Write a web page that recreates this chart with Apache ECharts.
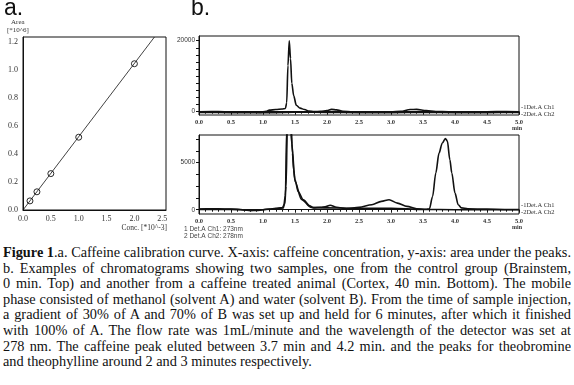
<!DOCTYPE html>
<html>
<head>
<meta charset="utf-8">
<script src="https://cdn.jsdelivr.net/npm/echarts@6/dist/echarts.min.js"></script>
<style>
  html, body { margin: 0; padding: 0; background: #fff; width: 574px; height: 385px; overflow: hidden; }
  #chart { position: absolute; left: 0; top: 0; width: 574px; height: 245px; }
  #caption {
    position: absolute; left: 3px; top: 245px; width: 568px; overflow: hidden;
    font-family: "Liberation Serif", serif; font-size: 14.3px; line-height: 15.6px; color: #111;
  }
  #caption div { white-space: nowrap; text-align: justify; text-align-last: justify; }
  #caption div.last { text-align-last: left; }
</style>
</head>
<body>
<div id="chart"></div>
<div id="caption">
  <div><b>Figure 1</b>.a. Caffeine calibration curve. X-axis: caffeine concentration, y-axis: area under the peaks.</div>
  <div>b. Examples of chromatograms showing two samples, one from the control group (Brainstem,</div>
  <div>0 min. Top) and another from a caffeine treated animal (Cortex, 40 min. Bottom). The mobile</div>
  <div>phase consisted of methanol (solvent A) and water (solvent B). From the time of sample injection,</div>
  <div>a gradient of 30% of A and 70% of B was set up and held for 6 minutes, after which it finished</div>
  <div>with 100% of A. The flow rate was 1mL/minute and the wavelength of the detector was set at</div>
  <div>278 nm. The caffeine peak eluted between 3.7 min and 4.2 min. and the peaks for theobromine</div>
  <div class="last">and theophylline around 2 and 3 minutes respectively.</div>
</div>
<script>
// a. 校准曲线数据
var calibConc = [0.125, 0.25, 0.5, 1.0, 2.0];
var calibArea = [0.065, 0.13, 0.26, 0.52, 1.045];
var fitLine = [[0, 0], [2.36, 1.236]];

// b. 色谱图 上 (Brainstem, 0 min)
var topCh1 = [[0,0],[0.2,50],[0.4,0],[0.6,-50],[0.8,-150],[0.95,-200],[1.05,100],[1.1,450],[1.2,600],[1.3,780],[1.35,900],
  [1.37,2500],[1.39,13000],[1.41,20000],[1.43,15000],[1.45,8000],[1.48,4500],[1.52,1800],[1.58,1000],[1.65,600],
  [1.72,150],[1.8,50],[1.9,100],[2.0,300],[2.07,650],[2.15,500],[2.25,100],[2.4,0],[2.6,0],[2.8,0],[3.0,-50],
  [3.15,100],[3.3,600],[3.4,650],[3.55,300],[3.7,50],[3.9,0],[4.2,0],[4.5,0],[4.8,50],[5.0,0]];
var topCh2 = [[0,-200],[0.5,-250],[1.0,-300],[1.35,-200],[1.6,-150],[2.0,-200],[2.5,-250],[3.0,-250],[3.5,-200],[4.0,-250],[4.5,-250],[5.0,-200]];

// b. 色谱图 下 (Cortex, 40 min)
var botCh1 = [[0,80],[0.2,90],[0.4,80],[0.6,50],[0.7,-20],[0.8,-100],[0.9,-80],[1.0,0],[1.1,80],[1.2,140],[1.3,220],
  [1.34,600],[1.36,2500],[1.38,8500],[1.42,11000],[1.44,9000],[1.46,6000],[1.48,4200],[1.5,3200],[1.55,1900],
  [1.63,1050],[1.73,420],[1.79,200],[1.9,250],[1.97,300],[2.05,480],[2.15,260],[2.3,110],[2.5,250],[2.7,530],
  [2.85,880],[2.97,1060],[3.1,700],[3.25,350],[3.4,100],[3.55,50],[3.6,100],[3.65,1400],[3.7,3900],[3.75,6000],
  [3.8,7050],[3.85,7550],[3.88,7300],[3.92,5300],[3.95,3900],[4.0,1760],[4.05,530],[4.1,200],[4.2,100],[4.5,60],
  [4.8,30],[5.0,20]];
var botCh2 = [[0,40],[0.5,40],[0.8,-60],[1.0,0],[1.2,100],[1.32,200],[1.35,1500],[1.37,8500],[1.42,10000],[1.45,7000],
  [1.5,3000],[1.6,1100],[1.75,250],[2.0,200],[2.5,150],[3.0,150],[3.5,30],[4.0,0],[4.5,0],[5.0,0]];

// 刻度
var topYLabels = [0, 20000];
var topYTicks = [0, 2000, 4000, 6000, 8000, 10000, 12000, 14000, 16000, 18000, 20000];
var botYLabels = [0, 5000];
var botYTicks = [0, 1250, 2500, 3750, 5000, 6250, 7500];

var serif = 'Liberation Serif';
var sans = 'Liberation Sans';
var ink = '#111';

function chromX (gridIndex) {
    return {
        type: 'value', gridIndex: gridIndex, min: 0, max: 5, interval: 0.5,
        axisLine: { lineStyle: { color: ink, width: 1 } },
        axisTick: { length: 3, lineStyle: { color: ink } },
        minorTick: { show: true, splitNumber: 5, length: 2, lineStyle: { color: ink } },
        splitLine: { show: false },
        axisLabel: { fontFamily: serif, fontSize: 6.5, fontWeight: 'bold', color: '#333', margin: 4,
            formatter: function (v) { return v.toFixed(1); } }
    };
}
function chromY (gridIndex, min, max, labels, ticks) {
    return {
        type: 'value', gridIndex: gridIndex, min: min, max: max,
        axisLine: { lineStyle: { color: ink, width: 1 } },
        axisTick: { length: 3, customValues: ticks, lineStyle: { color: ink } },
        splitLine: { show: false },
        axisLabel: { customValues: labels, fontFamily: sans, fontSize: 6.5, color: '#333', margin: 4,
            formatter: function (v) { return String(v); } }
    };
}
function chromLine (xi, data) {
    return {
        type: 'line', xAxisIndex: xi, yAxisIndex: xi, data: data, symbol: 'none',
        smooth: 0.3, smoothMonotone: 'x', clip: true,
        lineStyle: { color: ink, width: 1.6 }
    };
}

var myChart = echarts.init(document.getElementById('chart'));
var option = {
    animation: false,
    grid: [
        { left: 23, top: 37, width: 143, height: 173, show: true, borderColor: ink, borderWidth: 1, outerBoundsMode: 'none' },
        { left: 199, top: 36, width: 320, height: 79, show: true, borderColor: ink, borderWidth: 1, outerBoundsMode: 'none' },
        { left: 199, top: 135, width: 320, height: 79, show: true, borderColor: ink, borderWidth: 1, outerBoundsMode: 'none' }
    ],
    xAxis: [
        {
            type: 'value', gridIndex: 0, min: 0, max: 2.567, interval: 0.5,
            axisLine: { lineStyle: { color: ink } }, axisTick: { show: false }, splitLine: { show: false },
            axisLabel: { fontFamily: serif, fontSize: 8, color: '#333', margin: 5, showMaxLabel: false,
                formatter: function (v) { return v.toFixed(1); } }
        },
        chromX(1),
        chromX(2)
    ],
    yAxis: [
        {
            type: 'value', gridIndex: 0, min: 0, max: 1.236, interval: 0.2,
            axisLine: { lineStyle: { color: ink } }, axisTick: { show: false }, splitLine: { show: false },
            axisLabel: { fontFamily: serif, fontSize: 8, color: '#333', margin: 5, showMaxLabel: false,
                formatter: function (v) { return v.toFixed(1); } }
        },
        chromY(1, -930, 21320, topYLabels, topYTicks),
        chromY(2, -455, 7928, botYLabels, botYTicks)
    ],
    series: [
        {
            type: 'line', xAxisIndex: 0, yAxisIndex: 0, data: fitLine, symbol: 'none',
            lineStyle: { color: ink, width: 0.8 }
        },
        {
            type: 'line', xAxisIndex: 0, yAxisIndex: 0, symbol: 'circle', symbolSize: 6, showSymbol: true,
            lineStyle: { width: 0, opacity: 0 },
            itemStyle: { color: 'rgba(255,255,255,0)', borderColor: ink, borderWidth: 0.9 },
            data: calibConc.map(function (c, i) { return [c, calibArea[i]]; })
        },
        chromLine(1, topCh2),
        chromLine(1, topCh1),
        chromLine(2, botCh2),
        chromLine(2, botCh1)
    ],
    graphic: [
        { type: 'text', left: 4, top: -3, style: { text: 'a.', font: '23px "Liberation Sans"', fill: ink } },
        { type: 'text', left: 191, top: -3, style: { text: 'b.', font: '23px "Liberation Sans"', fill: ink } },
        { type: 'text', left: 11, top: 19, style: { text: 'Area', font: '7px "Liberation Serif"', fill: '#333' } },
        { type: 'text', left: 7, top: 27, style: { text: '[*10^6]', font: '7px "Liberation Serif"', fill: '#333' } },
        { type: 'text', x: 167, y: 224, style: { text: 'Conc. [*10^-3]', font: '7.5px "Liberation Serif"', fill: '#333', align: 'right' } },
        { type: 'text', x: 517, y: 125, style: { text: 'min', font: 'bold 6px "Liberation Serif"', fill: '#333', align: 'center' } },
        { type: 'text', x: 517, y: 224, style: { text: 'min', font: 'bold 6px "Liberation Serif"', fill: '#333', align: 'center' } },
        { type: 'text', x: 521, y: 104, style: { text: '-1Det.A Ch1', font: '6.5px "Liberation Serif"', fill: '#333' } },
        { type: 'text', x: 521, y: 111, style: { text: '-2Det.A Ch2', font: '6.5px "Liberation Serif"', fill: '#333' } },
        { type: 'text', x: 521, y: 202, style: { text: '-1Det.A Ch1', font: '6.5px "Liberation Serif"', fill: '#333' } },
        { type: 'text', x: 521, y: 209, style: { text: '-2Det.A Ch2', font: '6.5px "Liberation Serif"', fill: '#333' } },
        { type: 'text', x: 184, y: 226, style: { text: '1 Det.A Ch1: 273nm', font: '6.5px "Liberation Sans"', fill: '#444' } },
        { type: 'text', x: 184, y: 233, style: { text: '2 Det.A Ch2: 278nm', font: '6.5px "Liberation Sans"', fill: '#444' } }
    ]
};
myChart.setOption(option);
</script>
</body>
</html>
